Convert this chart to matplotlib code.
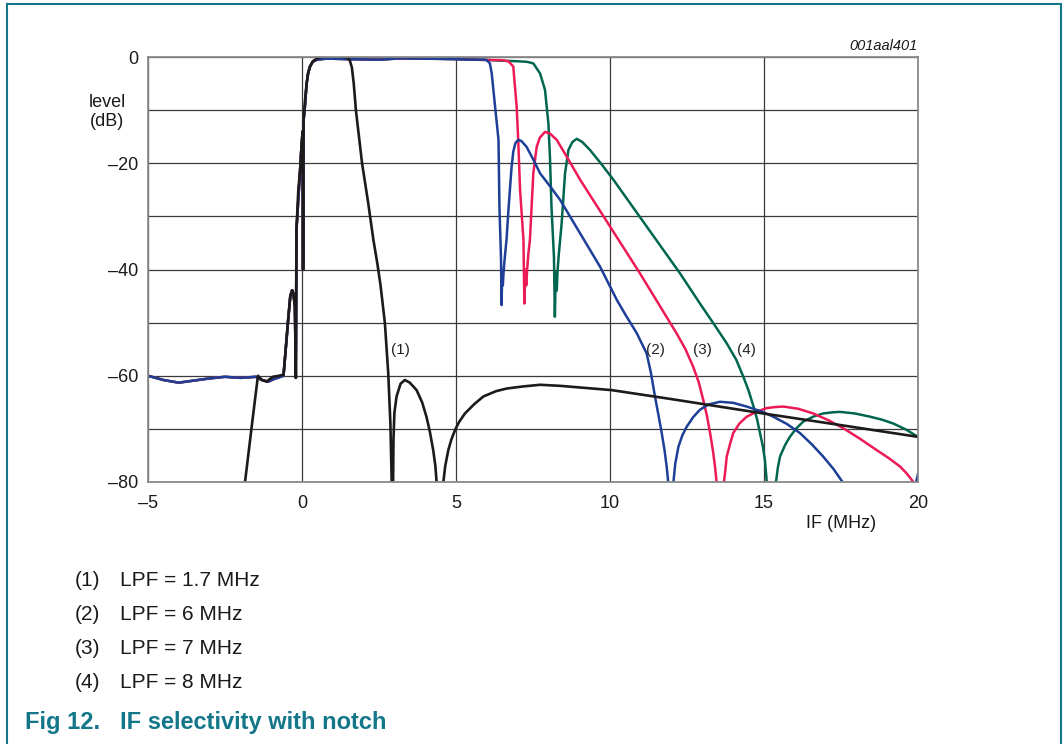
import matplotlib
matplotlib.use("Agg")
import matplotlib.pyplot as plt
import numpy as np
from matplotlib.lines import Line2D

plt.rcParams['font.family'] = ['Liberation Sans', 'DejaVu Sans']

# ---------------- data ----------------
# shared stop-band / skirt part of the LPF curves (2)-(4) below 0 MHz
left_f = [-5, -4.5, -4.0, -3.5, -3.0, -2.5, -2.0, -1.5, -1.3, -1.1, -0.9, -0.6, -0.5, -0.45,
          -0.38, -0.32, -0.28, -0.23, -0.2, -0.18, -0.1, -0.03, 0.02, 0.035, 0.05, 0.1, 0.15,
          0.2, 0.26, 0.35, 0.48, 0.8]
left_db = [-60, -60.8, -61.3, -60.9, -60.5, -60.2, -60.4, -60.2, -60.8, -61.1, -60.6, -60.0,
           -53, -49.5, -45, -43.9, -44.5, -47, -60.4, -32.6, -25, -18, -14, -40, -12, -9, -5,
           -3, -1.8, -0.9, -0.5, -0.3]
# shared pass-band
pass_f = [1.5, 2.5, 3.2, 3.8, 4.5, 5.0, 5.5]
pass_db = [-0.4, -0.5, -0.25, -0.3, -0.35, -0.4, -0.5]

# (2) LPF = 6 MHz
tail2_f = [5.9, 6.0, 6.1, 6.16, 6.27, 6.38, 6.41, 6.46, 6.48, 6.5, 6.52, 6.55, 6.58, 6.64, 6.7,
           6.75, 6.8, 6.86, 6.93, 7.02, 7.12, 7.29, 7.5, 7.73, 8.05, 8.38, 9.03, 9.68, 10.22,
           10.5, 10.87, 11.19, 11.33, 11.46, 11.57, 11.68, 11.77, 11.84, 11.89, 11.95, 12.0,
           12.06, 12.12, 12.22, 12.35, 12.49, 12.7, 12.92, 13.2, 13.57, 14.0, 14.44, 14.9,
           15.3, 15.75, 16.17, 16.55, 16.92, 17.25, 17.55, 17.7, 19.8, 19.9, 20.0]
tail2_db = [-0.5, -0.6, -1.2, -3.1, -9.4, -15.6, -28.2, -37.6, -46.7, -40.5, -43, -40, -38,
            -34.4, -29, -25, -21, -17.8, -16.2, -15.6, -15.8, -16.9, -19.2, -21.9, -24.3, -26.9,
            -33.2, -39.5, -45.7, -48.5, -52, -55.8, -59.5, -63.9, -67.3, -70.8, -74, -77.1,
            -80, -88, -88, -80, -76.5, -73.4, -71.2, -69.6, -67.8, -66.4, -65.4, -64.9, -65.1,
            -65.8, -66.7, -67.7, -69.1, -70.8, -72.9, -75.2, -77.5, -80, -85, -85, -81, -78.5]
# (3) LPF = 7 MHz
tail3_f = [6.0, 6.5, 6.7, 6.86, 6.97, 7.02, 7.08, 7.19, 7.22, 7.25, 7.28, 7.31, 7.35, 7.4, 7.51,
           7.62, 7.72, 7.89, 8.05, 8.27, 8.6, 9.03, 10.0, 10.97, 12.16, 12.45, 12.7, 12.88,
           13.03, 13.15, 13.25, 13.34, 13.41, 13.46, 13.55, 13.65, 13.7, 13.75, 13.79, 13.9,
           14.0, 14.2, 14.44, 14.75, 15.08, 15.35, 15.63, 16.1, 16.6, 17.1, 17.58, 18.1, 18.66,
           19.05, 19.42, 19.65, 19.85, 20.0]
tail3_db = [-0.55, -0.6, -0.8, -1.8, -9.4, -15.6, -25, -34.4, -46.4, -40, -43, -40, -37, -34.4,
            -21.9, -16.9, -15.2, -14.1, -14.4, -15.6, -18.8, -23.1, -31.9, -40.7, -52, -55,
            -58.3, -61.2, -64.6, -67.6, -70.8, -74, -77.1, -80, -88, -88, -80, -77.5, -75.2,
            -72.8, -70.8, -69.0, -67.7, -66.8, -66.1, -65.9, -65.8, -66.2, -67.1, -68.4, -69.9,
            -71.8, -74, -75.5, -77.1, -78.5, -80, -83]
# (4) LPF = 8 MHz
tail4_f = [6.0, 6.5, 7.0, 7.3, 7.51, 7.73, 7.89, 8.0, 8.05, 8.1, 8.18, 8.21, 8.24, 8.27, 8.3,
           8.34, 8.43, 8.54, 8.65, 8.78, 8.92, 9.1, 9.35, 9.7, 10.11, 11.19, 12.27, 12.92,
           13.4, 13.79, 14.1, 14.33, 14.5, 14.66, 14.78, 14.87, 14.96, 15.03, 15.09, 15.2, 15.3,
           15.39, 15.45, 15.52, 15.68, 15.84, 16.05, 16.28, 16.6, 16.92, 17.2, 17.47, 17.95,
           18.44, 18.85, 19.2, 19.6, 20.0]
tail4_db = [-0.55, -0.7, -0.8, -0.9, -1.2, -3.1, -6.2, -12.5, -18.8, -28.2, -37.6, -48.9, -40.5,
            -44, -40, -37, -31.3, -21.9, -17.5, -16.0, -15.4, -16.0, -17.5, -20.0, -23.1, -31.9,
            -40.7, -46.4, -50.5, -53.9, -57, -60.2, -62.8, -65.8, -68.3, -70.8, -73.2, -75.9,
            -80, -88, -88, -80, -77.3, -75.2, -73.1, -71.5, -69.9, -68.6, -67.7, -67.1, -66.9,
            -66.8, -67.1, -67.7, -68.3, -69, -70.1, -71.5]
# (1) LPF = 1.7 MHz
c1_f = [-2.0, -1.85, -1.6, -1.43, -1.3, -1.15, -0.95, -0.75, -0.6, -0.5, -0.45, -0.38, -0.32,
        -0.28, -0.23, -0.2, -0.18, -0.12, -0.06, -0.01, 0.02, 0.035, 0.05, 0.1, 0.15, 0.2, 0.26,
        0.35, 0.48, 0.6, 0.8, 1.2, 1.45, 1.55, 1.62, 1.68, 1.75, 1.95, 2.15, 2.32, 2.45, 2.55,
        2.69, 2.8, 2.87, 2.92, 2.95, 2.97, 3.0, 3.07, 3.2, 3.34, 3.5, 3.72, 3.9, 4.04, 4.15,
        4.26, 4.33, 4.37, 4.45, 4.52, 4.59, 4.65, 4.75, 4.85, 4.97, 5.1, 5.29, 5.6, 5.89, 6.3,
        6.65, 7.2, 7.73, 8.38, 10.05, 12.0, 14.98, 17.5, 20.0]
c1_db = [-88, -80, -68, -60.0, -60.8, -61.1, -60.2, -60.0, -59.8, -53, -49.5, -45, -43.9, -44.5,
         -47, -60.4, -32.6, -25, -21.3, -16.2, -14, -40, -12, -8, -5, -3, -1.8, -0.8, -0.3, 0.0,
         0.1, 0.1, -0.1, -0.6, -2, -5, -10, -20, -27.5, -34.5, -39, -43, -50, -59.5, -69, -82,
         -85, -72, -67, -63.9, -61.5, -60.8, -61.3, -62.7, -65, -67.7, -70.5, -74, -77, -80,
         -88, -88, -80, -77, -74, -72, -70.2, -68.7, -67.1, -65.3, -63.9, -62.9, -62.4, -62.0,
         -61.7, -61.9, -62.7, -64.4, -67.1, -69.3, -71.5]

x_ticks = [-5, 0, 5, 10, 15, 20]
y_ticks = [0, -20, -40, -60, -80]
legend_ids = ['(1)', '(2)', '(3)', '(4)']
legend_texts = ['LPF = 1.7 MHz', 'LPF = 6 MHz', 'LPF = 7 MHz', 'LPF = 8 MHz']

# ---------------- figure ----------------
W, H = 1063, 744
fig = plt.figure(figsize=(W / 100, H / 100), dpi=100)

def fx(px):
    return px / W

def fy(py):
    return 1 - py / H

ax = fig.add_axes([fx(148), fy(482), (918 - 148) / W, (482 - 57) / H])

col_black = '#1c1a1a'
col_blue = '#1d3f98'
col_red = '#ec1a55'
col_green = '#00664f'

def build(tf, td):
    return left_f + pass_f + tf, left_db + pass_db + td

lw = 1.8
f4, d4 = build(tail4_f, tail4_db)
f3, d3 = build(tail3_f, tail3_db)
f2, d2 = build(tail2_f, tail2_db)
ax.plot(f4, d4, color=col_green, lw=lw, solid_joinstyle='round')
ax.plot(f3, d3, color=col_red, lw=lw, solid_joinstyle='round')
ax.plot(f2, d2, color=col_blue, lw=lw, solid_joinstyle='round')
ax.plot(c1_f, c1_db, color=col_black, lw=lw + 0.1, solid_joinstyle='round')

ax.set_xlim(-5, 20)
ax.set_ylim(-80, 0)
ax.set_xticks(x_ticks)
ax.set_xticklabels([str(v).replace('-', '\u2013') for v in x_ticks])
grid_y = np.arange(-80, 1, 10)
ax.set_yticks(grid_y)
ax.set_yticklabels([(str(int(v)).replace('-', '\u2013') if v in y_ticks else '') for v in grid_y])
ax.tick_params(axis='both', length=0, labelsize=13, colors='#1a1a1a')
ax.tick_params(axis='x', pad=9)
ax.tick_params(axis='y', pad=7)
ax.grid(True, color='#3a3a3a', lw=0.9)
ax.set_axisbelow(True)
for s in ax.spines.values():
    s.set_color('#8a8a8a')
    s.set_linewidth(1.3)

# curve labels
for lab, xx in zip(['(1)', '(2)', '(3)', '(4)'], [3.21, 11.49, 12.99, 14.42]):
    ax.text(xx, -55.2, lab, fontsize=11, ha='center', va='center', color='#222222')

fig.text(fx(107), fy(112), 'level\n(dB)', fontsize=13, ha='center', va='center',
         linespacing=1.2, color='#1a1a1a')
fig.text(fx(841), fy(523), 'IF (MHz)', fontsize=13, ha='center', va='center', color='#1a1a1a')
fig.text(fx(918), fy(46), '001aal401', fontsize=10.5, ha='right', va='center',
         style='italic', color='#1a1a1a')

for i, (idt, txt) in enumerate(zip(legend_ids, legend_texts)):
    y = [580, 614, 648, 683][i]
    fig.text(fx(75), fy(y), idt, fontsize=15, ha='left', va='center', color='#1a1a1a')
    fig.text(fx(120), fy(y), txt, fontsize=15, ha='left', va='center', color='#1a1a1a')

teal = '#137689'
fig.text(fx(25), fy(723), 'Fig 12.', fontsize=17, fontweight='bold', ha='left', va='center',
         color=teal)
fig.text(fx(120), fy(723), 'IF selectivity with notch', fontsize=17, fontweight='bold',
         ha='left', va='center', color=teal)

# outer frame
fig.add_artist(Line2D([fx(7), fx(1061)], [fy(4), fy(4)], color=teal, lw=1.5))
fig.add_artist(Line2D([fx(7), fx(7)], [fy(4), fy(744)], color=teal, lw=1.5))
fig.add_artist(Line2D([fx(1061), fx(1061)], [fy(4), fy(744)], color=teal, lw=1.5))

fig.savefig('out.png', dpi=100)
